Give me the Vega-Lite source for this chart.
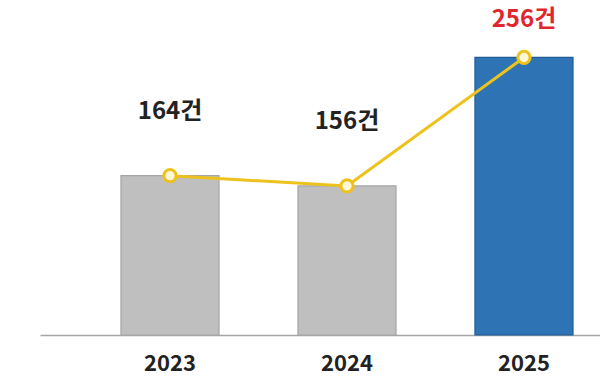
{
  "$schema": "https://vega.github.io/schema/vega-lite/v6.json",
  "width": 560,
  "height": 335,
  "autosize": {"type": "none"},
  "padding": {"left": 40, "top": 0, "right": 0, "bottom": 48},
  "background": "white",
  "config": {"view": {"stroke": null}, "font": "Noto Sans CJK KR"},
  "data": {
    "values": [
      {"year": "2023", "count": 164, "label": "164건", "highlight": false},
      {"year": "2024", "count": 156, "label": "156건", "highlight": false},
      {"year": "2025", "count": 256, "label": "256건", "highlight": true}
    ]
  },
  "encoding": {
    "x": {
      "field": "year",
      "type": "nominal",
      "scale": {"paddingInner": 0.446, "paddingOuter": 0.305, "align": 0.75},
      "axis": {
        "title": null,
        "labelAngle": 0,
        "ticks": false,
        "domainColor": "#A6A6A6",
        "domainWidth": 1.5,
        "labelFontSize": 22,
        "labelFontWeight": "bold",
        "labelColor": "#222222",
        "labelPadding": 18,
        "labelFont": "Noto Sans CJK KR"
      }
    },
    "y": {
      "field": "count",
      "type": "quantitative",
      "scale": {"domain": [40, 300.7], "zero": false, "nice": false},
      "axis": null
    }
  },
  "layer": [
    {
      "mark": {"type": "bar", "strokeWidth": 1.2},
      "encoding": {
        "y2": {"datum": 40},
        "color": {
          "field": "highlight",
          "type": "nominal",
          "scale": {"domain": [false, true], "range": ["#BFBFBF", "#2E74B5"]},
          "legend": null
        },
        "stroke": {
          "field": "highlight",
          "type": "nominal",
          "scale": {"domain": [false, true], "range": ["#A5A5A5", "#1F5C96"]},
          "legend": null
        }
      }
    },
    {
      "mark": {"type": "line", "color": "#EEC21C", "strokeWidth": 3},
      "encoding": {}
    },
    {
      "mark": {"type": "point", "filled": true, "fill": "#FFF7D6", "stroke": "#EEC21C", "strokeWidth": 3, "size": 150, "opacity": 1},
      "encoding": {}
    },
    {
      "transform": [{"filter": "!datum.highlight"}],
      "mark": {"type": "text", "dy": -64, "fontSize": 24, "fontWeight": "bold", "color": "#222222"},
      "encoding": {"text": {"field": "label"}}
    },
    {
      "transform": [{"filter": "datum.highlight"}],
      "mark": {"type": "text", "dy": -37, "fontSize": 24, "fontWeight": "bold", "color": "#E0252D"},
      "encoding": {"text": {"field": "label"}}
    }
  ]
}
